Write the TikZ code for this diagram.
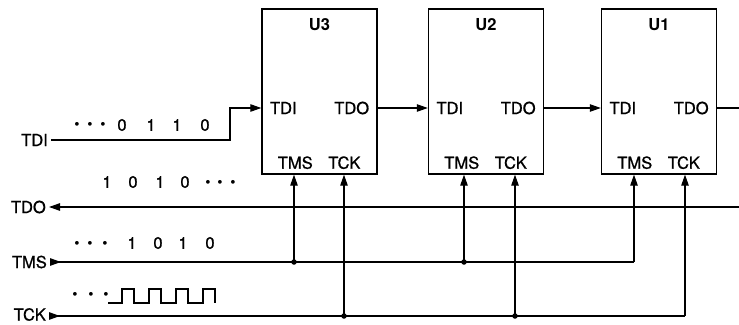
\documentclass[tikz,border=0pt]{standalone}
\usepackage{fontspec}
\setmainfont{TeX Gyre Heros}
\newfontface\medfont{TeX Gyre Heros}[FakeBold=0.9]
\usetikzlibrary{arrows.meta,calc}
\begin{document}
\begin{tikzpicture}[x=1pt,y=-1pt,
  chip/.style={draw, line width=1.4pt, minimum width=115pt, minimum height=165pt, inner sep=0pt},
  pinlbl/.style={font=\fontsize{16.5}{18}\medfont, inner sep=0pt},
  title/.style={font=\fontsize{16.5}{18}\selectfont\bfseries, inner sep=0pt},
  sig/.style={font=\fontsize{16.5}{18}\medfont, inner sep=0pt, anchor=east},
  bits/.style={font=\fontsize{16.5}{18}\medfont, inner sep=0pt},
  dotc/.style={font=\fontsize{15}{17}\selectfont, inner sep=0pt},
  wire/.style={line width=1.1pt},
  tip/.style={wire, -{Triangle[length=11pt,width=7.5pt]}},
  srcw/.style={wire, {Triangle[reversed,length=11pt,width=7.5pt]}-},
  jd/.style={circle, fill, inner sep=0pt, minimum size=5.5pt}]
\useasboundingbox (0,0) rectangle (739,324);

% chips
\node[chip] (U3) at (319.5,91.5) {};
\node[chip] (U2) at (486,91.5) {};
\node[chip] (U1) at (659,91.5) {};
\foreach \c/\n in {U3/U3,U2/U2,U1/U1}{
  \node[title] (\c t) at ($(\c.north)+(0,16)$) {\n};
  \node[pinlbl] (\c di) at ($(\c.west)+(22,16.5)$) {TDI};
  \node[pinlbl] (\c do) at ($(\c.east)+(-26,16.5)$) {TDO};
  \node[pinlbl] (\c ms) at ($(\c.south west)+(34,-12)$) {TMS};
  \node[pinlbl] (\c ck) at ($(\c.south west)+(83,-12)$) {TCK};
}

% pin coordinates
\coordinate (U3in) at (U3.west |- 0,108);
\coordinate (U3out) at (U3.east |- 0,108);
\coordinate (U2in) at (U2.west |- 0,108);
\coordinate (U2out) at (U2.east |- 0,108);
\coordinate (U1in) at (U1.west |- 0,108);
\coordinate (U1out) at (U1.east |- 0,108);
\coordinate (rEdge) at (739,108);
\coordinate (tdoR) at (739,207);
\coordinate (bend) at (230,140);

% left signal labels
\node[sig] (tdiL) at (48,140) {TDI};
\node[sig] (tdoL) at (46,207) {TDO};
\node[sig] (tmsL) at (47,262) {TMS};
\node[sig] (tckL) at (46,314.5) {TCK};

% TDI chain
\draw[srcw, -{Triangle[length=11pt,width=7.5pt]}] ($(tdiL.east)+(3,0)$) -- (bend) |- (U3in);
\draw[tip] (U3out) -- (U2in);
\draw[tip] (U2out) -- (U1in);
\draw[wire] (U1out) -- (rEdge);

% TDO bus
\draw[tip] (tdoR) -- ($(tdoL.east)+(3,0)$);

% junctions
\node[jd] (j1) at (294,262) {};
\node[jd] (j2) at (464,262) {};
\node[jd] (j3) at (344,316) {};
\node[jd] (j4) at (515,316) {};
\coordinate (c5) at (634,262);
\coordinate (c6) at (685,316);
\coordinate (tckS) at ($(tckL.east |- c6)+(3,0)$);

% TMS bus
\draw[srcw] ($(tmsL.east)+(3,0)$) -- (c5);
\draw[tip] (c5) -- (c5 |- U1.south);
\draw[tip] (j1.center) -- (j1 |- U3.south);
\draw[tip] (j2.center) -- (j2 |- U2.south);

% TCK bus
\draw[srcw] (tckS) -- (c6);
\draw[tip] (c6) -- (c6 |- U1.south);
\draw[tip] (j3.center) -- (j3 |- U3.south);
\draw[tip] (j4.center) -- (j4 |- U2.south);

% bit streams
\foreach \x [count=\i] in {77,90,103}
  \node[dotc] (ad\i) at (\x,126) {\textbullet};
\foreach \x/\c [count=\i] in {122/0,151/1,177/1,205/0}
  \node[bits] (ab\i) at (\x,125) {\c};

\foreach \x/\c [count=\i] in {107/1,133/0,160/1,185/0}
  \node[bits] (bb\i) at (\x,182) {\c};
\foreach \x [count=\i] in {208,220,233}
  \node[dotc] (bd\i) at (\x,184) {\textbullet};

\foreach \x [count=\i] in {77,90,105}
  \node[dotc] (cd\i) at (\x,245) {\textbullet};
\foreach \x/\c [count=\i] in {132/1,158/0,183/1,210/0}
  \node[bits] (cb\i) at (\x,243) {\c};

\foreach \x [count=\i] in {75,91,106}
  \node[dotc] (dd\i) at (\x,296) {\textbullet};
\draw[wire] (108,303) -- (122,303) -- (122,289) -- (134,289) -- (134,303)
  -- (149,303) -- (149,289) -- (161,289) -- (161,303)
  -- (176,303) -- (176,289) -- (188,289) -- (188,303)
  -- (203,303) -- (203,289) -- (215,289) -- (215,303);
\end{tikzpicture}
\end{document}
